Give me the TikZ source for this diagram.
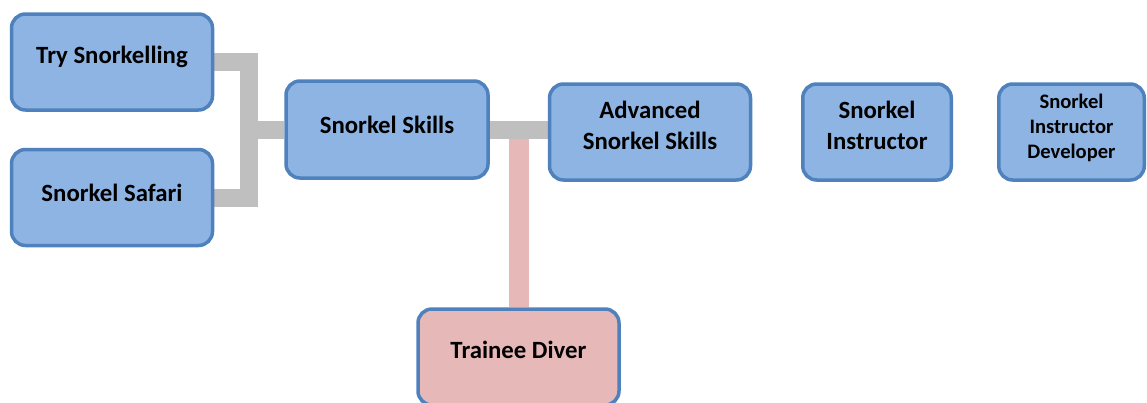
\documentclass[tikz,border=0pt]{standalone}
\usepackage{fontspec}
\setmainfont{Carlito}
\usetikzlibrary{backgrounds}
\definecolor{boxblue}{HTML}{8EB4E3}
\definecolor{boxedge}{HTML}{4F81BD}
\definecolor{boxpink}{HTML}{E6B9B8}
\definecolor{linkgray}{HTML}{BFBFBF}
\tikzset{
  course/.style={draw=boxedge, fill=boxblue, line width=3.5pt,
    rounded corners=14pt, inner sep=0pt,
    minimum width=201pt, minimum height=96pt},
  diver/.style={course, fill=boxpink},
  lbl/.style={font=\bfseries\fontsize{24.8}{31}\selectfont, align=center, inner sep=0pt},
  smalllbl/.style={lbl, font=\bfseries\fontsize{20.6}{25}\selectfont},
  graylink/.style={draw=linkgray, line width=18pt, line join=miter},
  pinklink/.style={draw=boxpink, line width=20pt}
}

\begin{document}
\begin{tikzpicture}[x=1pt, y=-1pt]
  \useasboundingbox (0,0) rectangle (1147,402);
  \clip (0,0) rectangle (1147,402);

  % snorkel courses
  \node[course] (try) at (112,62) {};
  \node[course] (safari) at (112,197.5) {};
  \node[course, minimum width=202pt, minimum height=97pt] (skills) at (387,129.5) {};
  \node[course] (adv) at (650,132) {};
  \node[course, minimum width=148.5pt] (instr) at (877,132) {};
  \node[course, minimum width=145.5pt] (dev) at (1071.5,132) {};
  % diver course
  \node[diver] (trainee) at (518.5,357) {};

  \node[lbl] (trytxt) at ([yshift=5pt]try.center) {Try Snorkelling};
  \node[lbl] (safaritxt) at ([yshift=5pt]safari.center) {Snorkel Safari};
  \node[lbl] (skillstxt) at ([yshift=4.5pt]skills.center) {Snorkel Skills};
  \node[lbl] (advtxt) at ([yshift=6.5pt]adv.center) {Advanced\\Snorkel Skills};
  \node[lbl] (instrtxt) at ([yshift=6.5pt]instr.center) {Snorkel\\Instructor};
  \node[smalllbl] (devtxt) at ([yshift=4pt]dev.center) {Snorkel\\Instructor\\Developer};
  \node[lbl] (traineetxt) at ([yshift=7pt]trainee.center) {Trainee Diver};

  \coordinate (jn) at (249,130);
  \begin{scope}[on background layer]
    \draw[pinklink] (trainee.north) -- (trainee.north |- skills.east);
    \draw[graylink] (try.east) -| (jn) |- (skills.west);
    \draw[graylink] (safari.east) -| (jn);
    \draw[graylink] (skills.east) -- (skills.east -| adv.west);
  \end{scope}
\end{tikzpicture}
\end{document}
